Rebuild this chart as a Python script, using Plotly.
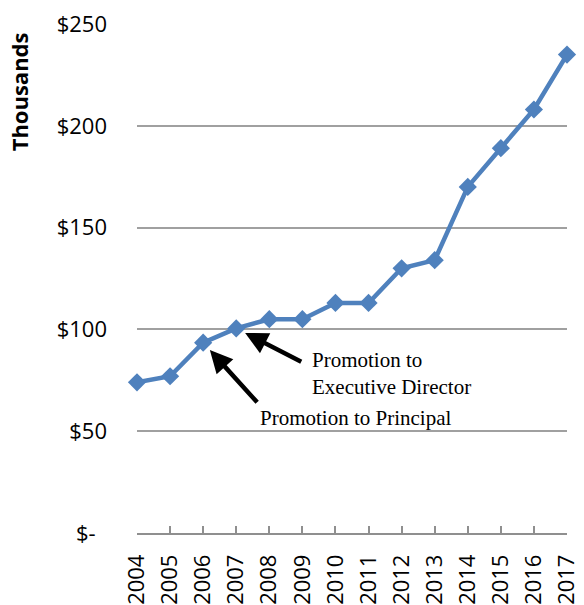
import plotly.graph_objects as go

years = ["2004", "2005", "2006", "2007", "2008", "2009", "2010",
         "2011", "2012", "2013", "2014", "2015", "2016", "2017"]
salary_thousands = [74, 77, 93.5, 100.5, 105, 105, 113, 113, 130, 134, 170, 189, 208, 235]
y_ticks = [0, 50, 100, 150, 200, 250]
y_tick_labels = ["$-\u00a0\u00a0", "$50", "$100", "$150", "$200", "$250"]

blue = "#4F81BD"
fig = go.Figure()
fig.add_trace(go.Scatter(
    x=years, y=salary_thousands, mode="lines+markers",
    line=dict(color=blue, width=4.5),
    marker=dict(symbol="diamond", size=14, color=blue),
    cliponaxis=False, showlegend=False, hoverinfo="skip",
))

tick_font = dict(family="Open Sans", size=22, color="black")
fig.update_layout(
    width=584, height=605,
    margin=dict(l=137, r=17, t=24, b=72),
    paper_bgcolor="white", plot_bgcolor="white",
    xaxis=dict(
        type="category", range=[0, 13], automargin=False,
        showline=True, linecolor="#8f8f8f", linewidth=1.5,
        ticks="inside", ticklen=7, tickwidth=1.5, tickcolor="#8f8f8f",
        showgrid=False, tickangle=-90, tickfont=tick_font,
        ticklabelstandoff=11,
    ),
    yaxis=dict(
        range=[0, 250], tickvals=y_ticks, ticktext=y_tick_labels, automargin=False,
        showgrid=True, gridcolor="#a0a0a0", gridwidth=1.5,
        zeroline=False, showline=False, ticks="", tickfont=tick_font,
        ticklabelstandoff=29,
    ),
)

fig.add_annotation(
    text="<b>Thousands</b>", textangle=-90,
    xref="paper", yref="paper", x=-0.275, y=0.988,
    xanchor="center", yanchor="top",
    font=dict(family="Open Sans", size=22, color="black"),
    showarrow=False,
)

serif = dict(family="Liberation Serif", size=21, color="black")
# arrow to 2006 (Principal)
fig.add_annotation(
    x=years.index("2006"), y=salary_thousands[2], xref="x", yref="y",
    ax=57, ay=63, axref="pixel", ayref="pixel",
    showarrow=True, arrowhead=2, arrowsize=1.0, arrowwidth=4.5,
    arrowcolor="black", standoff=10, text="\u00a0",
)
# arrow to 2007 (Executive Director)
fig.add_annotation(
    x=years.index("2007"), y=salary_thousands[3], xref="x", yref="y",
    ax=68, ay=35, axref="pixel", ayref="pixel",
    showarrow=True, arrowhead=2, arrowsize=1.0, arrowwidth=4.5,
    arrowcolor="black", standoff=10, text="\u00a0",
)
fig.add_annotation(
    text="Promotion to Principal", x=3.66, y=56.5, xref="x", yref="y",
    xanchor="left", yanchor="middle", showarrow=False, font=serif,
)
fig.add_annotation(
    text="Promotion to<br>Executive Director", x=5.24, y=78.3, xref="x", yref="y",
    xanchor="left", yanchor="middle", align="left", showarrow=False, font=serif,
)

fig.write_html("out.html", config={"displayModeBar": False},
               post_script="document.body.style.margin='0';")
